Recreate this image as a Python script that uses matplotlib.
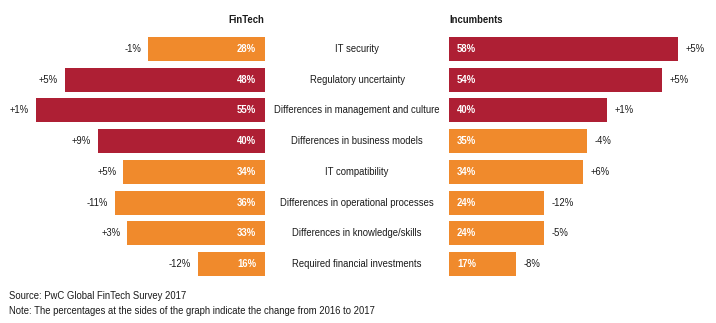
import matplotlib
matplotlib.use("Agg")
import matplotlib.pyplot as plt
from matplotlib.transforms import blended_transform_factory

categories = [
    "IT security",
    "Regulatory uncertainty",
    "Differences in management and culture",
    "Differences in business models",
    "IT compatibility",
    "Differences in operational processes",
    "Differences in knowledge/skills",
    "Required financial investments",
]
fintech = [28, 48, 55, 40, 34, 36, 33, 16]
fintech_change = ["-1%", "+5%", "+1%", "+9%", "+5%", "-11%", "+3%", "-12%"]
incumbents = [58, 54, 40, 35, 34, 24, 24, 17]
incumbents_change = ["+5%", "+5%", "+1%", "-4%", "+6%", "-12%", "-5%", "-8%"]

RED = "#AE1F34"
ORANGE = "#F08A2C"
TEXT = "#1a1a1a"

plt.rcParams["font.family"] = ["Liberation Sans", "DejaVu Sans"]

W, H = 716, 323
fig = plt.figure(figsize=(W / 100, H / 100), dpi=100)


def px_axes(x0, x1, y0, y1):
    return fig.add_axes([x0 / W, 1 - y1 / H, (x1 - x0) / W, (y1 - y0) / H])


def top3_colors(vals):
    top = sorted(vals, reverse=True)[:3]
    return [RED if v in top else ORANGE for v in vals]


step = 30.71
y_top, y_bot = 30, 280
ylim = (7 + (y_bot - 264) / step, -(49 - y_top) / step)
rows = list(range(len(categories)))

ax_l = px_axes(0, 265, y_top, y_bot)
ax_r = px_axes(449, 716, y_top, y_bot)

ax_l.barh(rows, fintech, height=0.78, color=top3_colors(fintech))
ax_l.set_xlim(265 / 4.17, 0)
ax_r.barh(rows, incumbents, height=0.78, color=top3_colors(incumbents))
ax_r.set_xlim(0, 267 / 3.94)

for ax in (ax_l, ax_r):
    ax.set_ylim(*ylim)
    ax.axis("off")

fs = 6.85
for i, (v, c) in enumerate(zip(fintech, fintech_change)):
    ax_l.annotate(f"{v}%", xy=(0, i), xytext=(-9, 0), textcoords="offset pixels",
                  ha="right", va="center", color="white", fontsize=fs, fontweight="bold")
    ax_l.annotate(c, xy=(v, i), xytext=(-7, 0), textcoords="offset pixels",
                  ha="right", va="center", color=TEXT, fontsize=fs)

for i, (v, c) in enumerate(zip(incumbents, incumbents_change)):
    ax_r.annotate(f"{v}%", xy=(0, i), xytext=(8, 0), textcoords="offset pixels",
                  ha="left", va="center", color="white", fontsize=fs, fontweight="bold")
    ax_r.annotate(c, xy=(v, i), xytext=(8, 0), textcoords="offset pixels",
                  ha="left", va="center", color=TEXT, fontsize=fs)

tr = blended_transform_factory(fig.transFigure, ax_l.transData)
for i, cat in enumerate(categories):
    fig.text(357 / W, i, cat, transform=tr, ha="center", va="center",
             color=TEXT, fontsize=fs)

fig.text(264 / W, 1 - 20 / H, "FinTech", ha="right", va="center",
         fontsize=fs, fontweight="bold", color=TEXT)
fig.text(449 / W, 1 - 20 / H, "Incumbents", ha="left", va="center",
         fontsize=fs, fontweight="bold", color=TEXT)

fig.text(9 / W, 1 - 296 / H, "Source: PwC Global FinTech Survey 2017",
         ha="left", va="center", fontsize=fs, color=TEXT)
fig.text(9 / W, 1 - 311 / H,
         "Note: The percentages at the sides of the graph indicate the change from 2016 to 2017",
         ha="left", va="center", fontsize=fs, color=TEXT)

fig.savefig("out.png", dpi=100, facecolor="white")
